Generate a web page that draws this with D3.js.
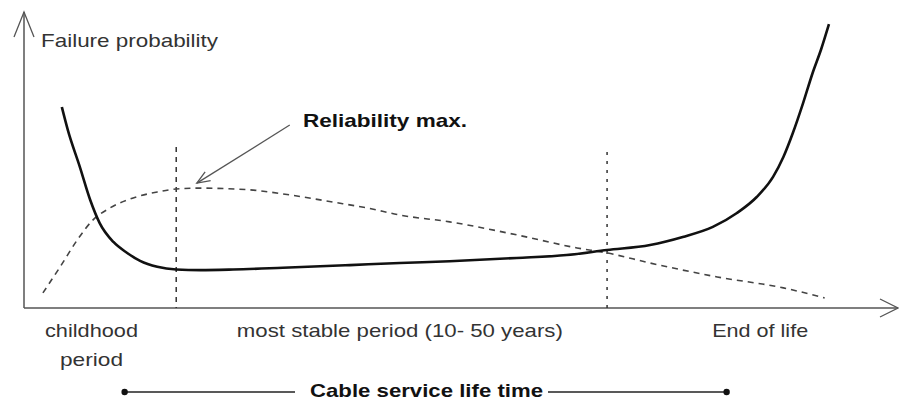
<!DOCTYPE html>
<html>
<head>
<meta charset="utf-8">
<script src="https://cdn.jsdelivr.net/npm/d3@7"></script>
<style>
  html, body { margin: 0; padding: 0; background: #fff; }
  svg { display: block; }
  text { font-family: "Liberation Sans", Arial, sans-serif; }
</style>
</head>
<body>
<script>
// ---- data (abstract units: x = service life 0..100, y = level 0..100) ----
const failureX = [4.4, 5.1, 6.5, 7.7, 8.8, 10.4, 12.0, 13.5, 15.5, 17.7, 20.5, 24.3, 30.1, 37.9, 43.7, 49.5, 57.3, 63.1, 67.8, 72.8, 76.6, 80.1, 82.9, 85.2, 87.1, 88.3, 89.4, 90.6, 91.7, 92.7, 93.6];
const failureY = [67.9, 60.1, 47.6, 36.5, 28.7, 22.3, 18.6, 15.9, 13.9, 13.0, 12.8, 13.0, 13.6, 14.5, 15.2, 15.8, 16.9, 17.9, 19.6, 21.3, 24.0, 27.4, 32.1, 37.5, 44.3, 51.0, 59.1, 69.3, 79.4, 87.5, 95.9];

const reliabilityX = [2.2, 4.2, 6.2, 8.0, 10.0, 12.7, 15.5, 17.7, 20.5, 26.3, 30.9, 35.9, 39.9, 43.7, 49.5, 57.3, 64.3, 67.8, 72.8, 80.6, 88.3, 93.1];
const reliabilityY = [5.1, 13.9, 23.0, 29.7, 33.8, 37.2, 39.2, 40.2, 40.5, 39.9, 38.2, 35.8, 33.8, 31.4, 29.1, 24.7, 20.3, 18.6, 15.2, 10.5, 6.8, 3.4];

const phaseBoundsX = [17.7, 67.8];
const phaseBoundsTop = [54.4, 52.7];

const phaseLabels = [["childhood", "period"], ["most stable period (10- 50 years)"], ["End of life"]];
const phaseCenters = [7.85, 43.7, 85.6];

const yAxisTitle = "Failure probability";
const annotationText = "Reliability max.";
const annotationFrom = [30.9, 61.8];
const annotationTo = [20.1, 42.2];
const lifetimeTitle = "Cable service life time";
const lifetimeSpan = [11.7, 81.7];

// ---- layout ----
const W = 899, H = 401;
const x = d3.scaleLinear().domain([0, 100]).range([24, 884]);
const y = d3.scaleLinear().domain([0, 100]).range([308, 12]);

const svg = d3.select("body").append("svg").attr("width", W).attr("height", H);
svg.append("rect").attr("width", W).attr("height", H).attr("fill", "#fff");

const axisColor = "#555";
// y axis with open arrow
svg.append("line").attr("x1", x(0)).attr("x2", x(0)).attr("y1", y(0)).attr("y2", 12)
  .attr("stroke", axisColor).attr("stroke-width", 1.5);
svg.append("path").attr("d", `M${x(0) - 10},37 L${x(0)},12 L${x(0) + 10},37`)
  .attr("fill", "none").attr("stroke", axisColor).attr("stroke-width", 1.3);
// x axis with open arrow
svg.append("line").attr("x1", x(0)).attr("x2", 898).attr("y1", y(0)).attr("y2", y(0))
  .attr("stroke", axisColor).attr("stroke-width", 1.5);
svg.append("path").attr("d", `M880,${y(0) - 9} L898,${y(0)} L880,${y(0) + 9}`)
  .attr("fill", "none").attr("stroke", axisColor).attr("stroke-width", 1.3);

// phase boundaries
svg.selectAll("line.bound").data(phaseBoundsX).join("line").attr("class", "bound")
  .attr("x1", d => x(d)).attr("x2", d => x(d))
  .attr("y1", (d, i) => y(phaseBoundsTop[i])).attr("y2", y(0))
  .attr("stroke", "#333").attr("stroke-width", 1.5)
  .attr("stroke-dasharray", (d, i) => i === 0 ? "5,5" : "3,6");

// reliability dashed curve
const relData = reliabilityX.map((v, i) => [v, reliabilityY[i]]);
svg.append("path").datum(relData)
  .attr("d", d3.line().x(d => x(d[0])).y(d => y(d[1])).curve(d3.curveMonotoneX))
  .attr("fill", "none").attr("stroke", "#444").attr("stroke-width", 1.6)
  .attr("stroke-dasharray", "6,5");

// failure (bathtub) curve
const failData = failureX.map((v, i) => [v, failureY[i]]);
svg.append("path").datum(failData)
  .attr("d", d3.line().x(d => x(d[0])).y(d => y(d[1])).curve(d3.curveMonotoneX))
  .attr("fill", "none").attr("stroke", "#111").attr("stroke-width", 2.6);

// annotation arrow
const ax1 = x(annotationFrom[0]), ay1 = y(annotationFrom[1]);
const ax2 = x(annotationTo[0]), ay2 = y(annotationTo[1]);
svg.append("line").attr("x1", ax1).attr("y1", ay1).attr("x2", ax2).attr("y2", ay2)
  .attr("stroke", "#555").attr("stroke-width", 1.3);
const ang = Math.atan2(ay1 - ay2, ax1 - ax2);
const hl = 14, ha = 0.38;
svg.append("path")
  .attr("d", `M${ax2 + hl * Math.cos(ang - ha)},${ay2 + hl * Math.sin(ang - ha)} L${ax2},${ay2} L${ax2 + hl * Math.cos(ang + ha)},${ay2 + hl * Math.sin(ang + ha)}`)
  .attr("fill", "none").attr("stroke", "#555").attr("stroke-width", 1.3);
svg.append("text").attr("x", 303).attr("y", 127)
  .attr("font-size", 19).attr("font-weight", "bold").attr("fill", "#111")
  .attr("textLength", 164).attr("lengthAdjust", "spacingAndGlyphs")
  .text(annotationText);

// y axis title
svg.append("text").attr("x", 41).attr("y", 47)
  .attr("font-size", 19).attr("fill", "#333")
  .attr("textLength", 177).attr("lengthAdjust", "spacingAndGlyphs")
  .text(yAxisTitle);

// phase labels
const labelWidths = [[93, 63], [326], [96]];
phaseLabels.forEach((lines, i) => {
  lines.forEach((t, j) => {
    svg.append("text")
      .attr("x", x(phaseCenters[i]) - labelWidths[i][j] / 2)
      .attr("y", 337 + j * 29)
      .attr("font-size", 19).attr("fill", "#333")
      .attr("textLength", labelWidths[i][j]).attr("lengthAdjust", "spacingAndGlyphs")
      .text(t);
  });
});

// lifetime bar
const ly = 392;
svg.append("line").attr("x1", x(lifetimeSpan[0])).attr("x2", 295).attr("y1", ly).attr("y2", ly)
  .attr("stroke", "#222").attr("stroke-width", 1.5);
svg.append("line").attr("x1", 548).attr("x2", x(lifetimeSpan[1])).attr("y1", ly).attr("y2", ly)
  .attr("stroke", "#222").attr("stroke-width", 1.5);
svg.selectAll("circle.end").data(lifetimeSpan).join("circle").attr("class", "end")
  .attr("cx", d => x(d)).attr("cy", ly).attr("r", 3.2).attr("fill", "#111");
svg.append("text").attr("x", 310).attr("y", 397)
  .attr("font-size", 19).attr("font-weight", "bold").attr("fill", "#111")
  .attr("textLength", 233).attr("lengthAdjust", "spacingAndGlyphs")
  .text(lifetimeTitle);
</script>
</body>
</html>
